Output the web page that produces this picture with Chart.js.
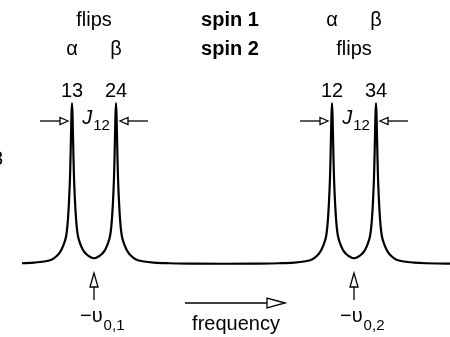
<!DOCTYPE html>
<html>
<head>
<meta charset="utf-8">
<script src="https://cdn.jsdelivr.net/npm/chart.js@4.4.0/dist/chart.umd.min.js"></script>
<style>
  html, body { margin: 0; padding: 0; background: #fff; }
  #wrap { width: 450px; height: 337px; }
</style>
</head>
<body>
<div id="wrap"><canvas id="spectrum" width="450" height="337"></canvas></div>
<script>
// ------------------------------------------------------------
// spectrum samples (frequency in arbitrary units, 0 = middle)
// ------------------------------------------------------------
const freq = [
  -202, -190, -180, -172, -167, -164, -162, -160, -158, -157, -156, -155, -154, -153.5, -153, -152.5,
  -152, -151.5, -151, -150.5, -150, -149, -148, -147, -146, -144, -142, -140, -137, -134,
  -130, -126, -123, -120, -118, -116, -114, -113, -112, -111, -110, -109.5, -109, -108.5,
  -108, -107.5, -107, -106.5, -106, -105, -104, -103, -102, -100, -98, -96, -93, -88, -80, -70, -55, -30,
  0,
  30, 55, 70, 80, 88, 93, 96, 98, 100, 102, 103, 104, 105, 106, 106.5, 107, 107.5,
  108, 108.5, 109, 109.5, 110, 111, 112, 113, 114, 116, 118, 120, 123, 126,
  130, 134, 137, 140, 142, 144, 146, 147, 148, 149, 150, 150.5, 151, 151.5,
  152, 152.5, 153, 153.5, 154, 155, 156, 157, 158, 160, 162, 164, 167, 172, 180, 190, 202, 214, 226
];
const intensity = [
  0.5, 0.9, 1.6, 2.9, 5.2, 7.4, 9.7, 12.7, 17.0, 21.2, 28.2, 38.7, 53.6, 65.2, 79.7, 93.2,
  100, 93.2, 79.8, 65.3, 53.8, 38.9, 28.5, 21.5, 17.3, 13.0, 10.0, 7.8, 5.8, 4.5,
  3.6, 4.5, 5.8, 7.8, 10.0, 13.0, 17.3, 21.5, 28.5, 38.9, 53.8, 65.3, 79.8, 93.2,
  100, 93.2, 79.7, 65.2, 53.6, 38.7, 28.2, 21.2, 17.0, 12.7, 9.7, 7.4, 5.2, 2.9, 1.6, 0.9, 0.5, 0.3,
  0.2,
  0.3, 0.5, 0.9, 1.6, 2.9, 5.2, 7.4, 9.7, 12.7, 17.0, 21.2, 28.2, 38.7, 53.6, 65.2, 79.7, 93.2,
  100, 93.2, 79.8, 65.3, 53.8, 38.9, 28.5, 21.5, 17.3, 13.0, 10.0, 7.8, 5.8, 4.5,
  3.6, 4.5, 5.8, 7.8, 10.0, 13.0, 17.3, 21.5, 28.5, 38.9, 53.8, 65.3, 79.8, 93.2,
  100, 93.2, 79.7, 65.2, 53.6, 38.7, 28.2, 21.2, 17.0, 12.7, 9.7, 7.4, 5.2, 2.9, 1.6, 0.9, 0.5, 0.35, 0.3
];

// line positions and their labels
const peakFreqs  = [-152, -108, 108, 152];
const peakLabels = ['13', '24', '12', '34'];
const centerFreqs = [-130, 130];
const centerSubs  = ['0,1', '0,2'];

// header rows: [text, frequency, bold]
const headerRow1 = [['flips', -130, false], ['spin 1', 6, true], ['α', 108, false], ['β', 152, false]];
const headerRow2 = [['α', -152, false], ['β', -108, false], ['spin 2', 6, true], ['flips', 130, false]];

const FONT = "'Liberation Sans', Arial, Helvetica, sans-serif";
const INK = '#000';

// ------------------------------------------------------------
// small drawing helpers
// ------------------------------------------------------------
function hollowHead(ctx, tipX, tipY, dir, len, half) {
  // dir: 'right' | 'left' | 'up'
  ctx.beginPath();
  if (dir === 'right') {
    ctx.moveTo(tipX, tipY);
    ctx.lineTo(tipX - len, tipY - half);
    ctx.lineTo(tipX - len, tipY + half);
  } else if (dir === 'left') {
    ctx.moveTo(tipX, tipY);
    ctx.lineTo(tipX + len, tipY - half);
    ctx.lineTo(tipX + len, tipY + half);
  } else {
    ctx.moveTo(tipX, tipY);
    ctx.lineTo(tipX - half, tipY + len);
    ctx.lineTo(tipX + half, tipY + len);
  }
  ctx.closePath();
  ctx.fillStyle = '#fff';
  ctx.fill();
  ctx.stroke();
  ctx.fillStyle = INK;
}

function hArrow(ctx, fromX, tipX, y, len, half) {
  ctx.beginPath();
  ctx.moveTo(fromX, y);
  ctx.lineTo(tipX + (tipX > fromX ? -len : len), y);
  ctx.stroke();
  hollowHead(ctx, tipX, y, tipX > fromX ? 'right' : 'left', len, half);
}

const annotations = {
  id: 'annotations',
  afterDraw(chart) {
    const ctx = chart.ctx;
    const x = chart.scales.x;
    ctx.save();
    ctx.fillStyle = INK;
    ctx.strokeStyle = INK;
    ctx.textAlign = 'center';
    ctx.textBaseline = 'alphabetic';

    // header rows
    headerRow1.forEach(function (h) {
      ctx.font = (h[2] ? 'bold ' : '') + '20px ' + FONT;
      ctx.fillText(h[0], x.getPixelForValue(h[1]), 26);
    });
    headerRow2.forEach(function (h) {
      ctx.font = (h[2] ? 'bold ' : '') + '20px ' + FONT;
      ctx.fillText(h[0], x.getPixelForValue(h[1]), 55);
    });

    // transition numbers over each line
    ctx.font = '20px ' + FONT;
    peakFreqs.forEach(function (f, i) {
      ctx.fillText(peakLabels[i], x.getPixelForValue(f), 97);
    });

    // cut-off text at the left edge
    ctx.textAlign = 'right';
    ctx.fillText('3', 3, 165);
    ctx.textAlign = 'left';

    // J12 splitting markers
    ctx.lineWidth = 1.3;
    for (let k = 0; k < 2; k++) {
      const a = x.getPixelForValue(peakFreqs[2 * k]);
      const b = x.getPixelForValue(peakFreqs[2 * k + 1]);
      hArrow(ctx, a - 32, a - 4, 121, 8, 3.5);
      hArrow(ctx, b + 32, b + 4, 121, 8, 3.5);

      ctx.font = 'italic 20px ' + FONT;
      const wJ = ctx.measureText('J').width;
      ctx.font = '15px ' + FONT;
      const wS = ctx.measureText('12').width;
      const mid = x.getPixelForValue(centerFreqs[k]) + 2;
      const start = mid - (wJ + wS + 1) / 2;
      ctx.font = 'italic 20px ' + FONT;
      ctx.fillText('J', start, 124);
      ctx.font = '15px ' + FONT;
      ctx.fillText('12', start + wJ + 1, 130);
    }

    // chemical-shift markers below the doublets
    centerFreqs.forEach(function (f, i) {
      const cx = x.getPixelForValue(f);
      ctx.beginPath();
      ctx.moveTo(cx, 300);
      ctx.lineTo(cx, 287);
      ctx.stroke();
      hollowHead(ctx, cx, 273, 'up', 14, 4);
      ctx.font = '20px ' + FONT;
      const main = '\u2212\u03c5';
      const start = cx - 14;
      ctx.fillText(main, start, 322);
      const w = ctx.measureText(main).width;
      ctx.font = '15px ' + FONT;
      ctx.fillText(centerSubs[i], start + w + 1, 330);
    });

    // frequency direction arrow
    hArrow(ctx, x.getPixelForValue(-39), x.getPixelForValue(61), 303, 18, 5);
    ctx.font = '20px ' + FONT;
    ctx.textAlign = 'center';
    ctx.fillText('frequency', x.getPixelForValue(12), 330);
    ctx.restore();
  }
};

const points = freq.map(function (f, i) { return { x: f, y: intensity[i] }; });

new Chart(document.getElementById('spectrum'), {
  type: 'line',
  data: {
    datasets: [{
      data: points,
      borderColor: INK,
      borderWidth: 2.2,
      pointRadius: 0,
      fill: false,
      cubicInterpolationMode: 'monotone'
    }]
  },
  options: {
    responsive: false,
    animation: false,
    layout: { padding: 0 },
    plugins: { legend: { display: false }, tooltip: { enabled: false } },
    scales: {
      x: { type: 'linear', min: -224, max: 226, display: false },
      y: { min: -45.3, max: 164, display: false }
    }
  },
  plugins: [annotations]
});
</script>
</body>
</html>
